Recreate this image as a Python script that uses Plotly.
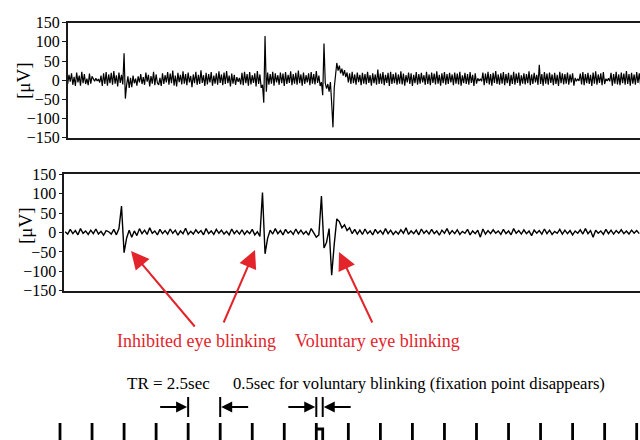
import plotly.graph_objects as go

# ---------------- data ----------------
T0_TOP, DT_TOP = 0.5, 0.1      # s, first sample time / spacing of upper trace
T0_BOT, DT_BOT = 0.4, 0.2      # s, first sample time / spacing of lower trace

eog_top = [
    6, -10, 14, -4, 18, -12, 9, -15, 20, -6,
    12, -14, 22, -8, 16, -10, 4, -13, 17, -9,
    10, 2, -3, 5, -2, 3, -6, 12, -15, 18,
    -10, 21, -14, 15, -8, 19, -12, 24, -9, 13,
    -16, 20, -7, 14, -11, 70, -48, -12, 10, -20,
    6, -18, 12, -8, 4, -14, 10, -6, 16, -10,
    8, -12, 20, -4, 14, -16, 11, -9, 22, -13,
    15, -7, -12, 6, -15, 18, -10, 13, -6, 21,
    -12, 17, -8, 25, -14, 12, -16, 19, -5, 14,
    -11, 23, -9, 16, -13, 20, -6, 11, -18, 15,
    -8, 22, -12, 14, -10, 26, -7, 13, -15, 19,
    -11, 16, -6, 21, -14, 12, -9, 18, -12, 23,
    -7, 15, -13, 20, -10, 24, -8, 12, -16, 17,
    -9, 14, -12, 8, -4, 6, -11, 19, -13, 22,
    -8, 16, -14, 21, -11, 13, -7, 18, -16, 24,
    -10, 15, -20, -12, -59, 115, -30, 20, -12, 16,
    -9, 22, -14, 18, -6, 13, -12, 20, -8, 17,
    -15, 21, -10, 14, -7, 23, -13, 16, -9, 19,
    -12, 25, -8, 15, -14, 20, -10, 13, -6, 18,
    -13, 21, -9, 16, -11, 24, -7, 12, -15, -5,
    -39, 96, -8, -22, -10, -30, -5, -60, -123, -20,
    10, 45, 25, 38, 18, 30, 12, 26, 8, 20,
    -6, 18, -10, 22, -8, 15, -12, 20, -5, 14,
    -13, 19, -9, 16, -11, 22, -7, 13, -14, 18,
    -8, 15, -12, 28, -10, 17, -9, 21, -13, 14,
    -7, 19, -15, 22, -10, 16, -8, 20, -12, 15,
    -9, 23, -11, 17, -14, 13, -6, 20, -10, 18,
    -15, 14, -8, 21, -12, 16, -9, 19, -6, 13,
    -12, 22, -10, 15, -13, 20, -7, 17, -11, 23,
    -9, 14, -14, 18, -8, 21, -12, 16, -10, 19,
    -6, 15, -13, 20, -9, 17, -11, 22, -14, 13,
    -8, 19, -10, 16, -12, 21, -7, 14, -15, 18,
    -9, 5, -2, 4, -3, 20, -13, 17, -8, 22,
    -11, 16, -14, 19, -7, 24, -10, 15, -12, 18,
    -9, 21, -13, 16, -8, 19, -15, 14, -10, 22,
    -12, 17, -7, 20, -14, 13, -9, 18, -11, 16,
    -8, 23, -13, 15, -10, 19, -6, 14, -12, 40,
    -10, 16, -14, 21, -9, 17, -12, 20, -7, 15,
    -13, 19, -10, 14, -15, 22, -8, 18, -11, 16,
    -9, 20, -12, 15, -6, 18, -14, 6, -3, 4,
    -2, 17, -11, 21, -13, 16, -8, 19, -10, 14,
    -15, 20, -9, 23, -12, 15, -7, 18, -13, 21,
    -10, 4, -2, 5, -3, 19, -14, 16, -9, 22,
    -11, 15, -13, 20, -8, 17, -12, 24, -10, 16,
    -14, 19, -9, 15, -12, 21, -7, 18, -11, 14,
]

eog_bottom = [
    2, -4, 8, -3, 5, -6, 10, -2, 4, -5,
    6, -3, 9, -4, 3, -7, 5, 2, -4, 8,
    -6, 10, 68, -52, -14, 6, -12, 4, -8, 10,
    -3, 6, -5, 12, -2, 4, -6, 8, -3, 5,
    -4, 9, -2, 6, -7, 4, -3, 11, -5, 3,
    -4, 7, -2, 5, -6, 10, -3, 4, -5, 8,
    -2, 6, -4, 3, -6, 9, -3, 5, -4, 7,
    -5, 4, -3, 8, -6, 2, -10, 103, -55, -15,
    6, -4, 10, -3, 5, -6, 8, -2, 4, -5,
    9, -3, 6, -4, 3, -7, 10, -2, -12, -6,
    94, -40, -25, 10, -110, -30, 35, 28, 12, 20,
    5, 12, -3, 8, -4, 6, -5, 9, -3, 4,
    -6, 8, -2, 5, -4, 10, -3, 6, -5, 3,
    -4, 7, -2, 12, -5, 4, -3, 6, -6, 9,
    -2, 5, -4, 8, -3, 4, -7, 6, -2, 10,
    -4, 5, -3, 7, -5, 3, -2, 8, -6, 4,
    -3, 6, -12, 9, -4, 5, -3, 7, -2, 4,
    -5, 8, -3, 4, -6, 10, -2, 5, -4, 7,
    -3, 4, -8, 6, -2, 5, -4, 9, -3, 6,
    -5, 3, -2, 8, -4, 6, -3, 5, -6, 4,
    -2, 7, -4, 10, -3, 5, -12, 6, -2, 4,
    -5, 8, -3, 6, -4, 5, -2, 7, -3, 4,
    -4, 6, -2, 5, -3,
]

y_ticks = [-150, -100, -50, 0, 50, 100, 150]
tr_times = [0, 2.5, 5, 7.5, 10, 12.5, 15, 17.5, 20, 22.5, 25, 27.5,
            30, 32.5, 35, 37.5, 40, 42.5, 45]          # scan onsets (TR = 2.5 s)
tr_interval = [10.0, 12.5]                              # one TR marked with arrows
fixation_off = [20.0, 20.5]                             # 0.5 s voluntary-blink cue

label_inhibited = "Inhibited eye blinking"
label_voluntary = "Voluntary eye blinking"
label_tr = "TR = 2.5sec"
label_cue = "0.5sec for voluntary blinking (fixation point disappears)"
unit_label = "[\u03bcV]"

# ---------------- figure ----------------
W, H = 640, 440
PX_PER_S = 12.815
ORIGIN_PX = 60.0
def t_of(px):
    return (px - ORIGIN_PX) / PX_PER_S
def py(px):
    return 1 - px / H

t_top = [T0_TOP + DT_TOP * i for i in range(len(eog_top))]
t_bot = [T0_BOT + DT_BOT * i for i in range(len(eog_bottom))]

SERIF = "Liberation Serif, Times New Roman, serif"
RED = "#e3242b"
AX = "#1a1a1a"

fig = go.Figure()
fig.add_trace(go.Scatter(x=t_top, y=eog_top, mode="lines",
                         line=dict(color="black", width=1.2),
                         xaxis="x", yaxis="y", hoverinfo="skip"))
fig.add_trace(go.Scatter(x=t_bot, y=eog_bottom, mode="lines",
                         line=dict(color="black", width=1.4),
                         xaxis="x2", yaxis="y2", hoverinfo="skip"))

# timeline ticks
TICK_H = 0.378
tx, ty = [], []
for t in tr_times:
    tx += [t, t, None]
    ty += [0, TICK_H, None]
H_BAR = 0.244
tx += [fixation_off[0], fixation_off[1], fixation_off[1], None]
ty += [H_BAR, H_BAR, 0, None]
fig.add_trace(go.Scatter(x=tx, y=ty, mode="lines",
                         line=dict(color="black", width=2.8),
                         xaxis="x3", yaxis="y3", hoverinfo="skip"))

# interval bars
BAR_LO, BAR_HI, ARR_Y = 0.511, 0.956, 0.733
bx, by = [], []
for t in tr_interval + fixation_off:
    bx += [t, t, None]
    by += [BAR_LO, BAR_HI, None]
fig.add_trace(go.Scatter(x=bx, y=by, mode="lines",
                         line=dict(color="black", width=2),
                         xaxis="x3", yaxis="y3", hoverinfo="skip"))

annotations = []
ARR_LEN = 2.3
for (a, b) in (tr_interval, fixation_off):
    annotations.append(dict(xref="x3", yref="y3", axref="x3", ayref="y3",
                            x=a - 0.08, y=ARR_Y, ax=a - ARR_LEN, ay=ARR_Y,
                            text="", showarrow=True, arrowhead=2, arrowsize=1.1,
                            arrowwidth=2, arrowcolor="black"))
    annotations.append(dict(xref="x3", yref="y3", axref="x3", ayref="y3",
                            x=b + 0.08, y=ARR_Y, ax=b + ARR_LEN, ay=ARR_Y,
                            text="", showarrow=True, arrowhead=2, arrowsize=1.1,
                            arrowwidth=2, arrowcolor="black"))

# red arrows to blinks
for (hx, hy, tx_, ty_) in [(131, 251, 196, 328), (255, 250, 223, 324), (339, 252, 373, 324)]:
    annotations.append(dict(xref="paper", yref="paper", x=hx / W, y=py(hy),
                            ax=tx_ - hx, ay=ty_ - hy, text="", showarrow=True,
                            arrowhead=2, arrowsize=1.8, arrowwidth=2, arrowcolor=RED))

def txt(x, y, s, size, color, angle=0):
    return dict(xref="paper", yref="paper", x=x / W, y=py(y), text=s,
                xanchor="center", yanchor="middle", textangle=angle,
                showarrow=False, font=dict(family=SERIF, size=size, color=color))

annotations += [
    txt(196, 341, label_inhibited, 18, RED),
    txt(377, 341, label_voluntary, 18, RED),
    txt(168, 383, label_tr, 17, "black"),
    txt(419, 383, label_cue, 16.6, "black"),
    txt(23, 81, unit_label, 19, "black", -90),
    txt(25, 226, unit_label, 19, "black", -90),
]

xcommon = dict(showline=True, mirror=True, linecolor=AX, linewidth=1.6,
               showticklabels=False, ticks="", showgrid=False, zeroline=False,
               automargin=False)
ycommon = dict(showline=True, mirror=False, linecolor=AX, linewidth=1.6,
               range=[-150, 150], tickvals=y_ticks, ticks="outside", ticklen=4,
               tickwidth=1.4, tickcolor=AX, showgrid=False, zeroline=False,
               automargin=False, ticklabelstandoff=-1,
               tickfont=dict(family=SERIF, size=16, color="black"))

fig.update_layout(
    width=W, height=H, margin=dict(l=0, r=0, t=0, b=0, pad=0),
    paper_bgcolor="white", plot_bgcolor="white", showlegend=False,
    xaxis=dict(domain=[67.7 / W, 1], range=[t_of(67.7), t_of(640)], anchor="y", **xcommon),
    yaxis=dict(domain=[py(137.7), py(22.7)], anchor="x", **ycommon),
    xaxis2=dict(domain=[64.3 / W, 1], range=[t_of(64.3), t_of(640)], anchor="y2", **xcommon),
    yaxis2=dict(domain=[py(290.7), py(174.3)], anchor="x2", **ycommon),
    xaxis3=dict(domain=[0, 1], range=[t_of(0), t_of(640)], anchor="y3", visible=False),
    yaxis3=dict(domain=[0, 45 / H], range=[0, 1], anchor="x3", visible=False),
    annotations=annotations,
)

fig.write_html("out.html", config={"displayModeBar": False})
